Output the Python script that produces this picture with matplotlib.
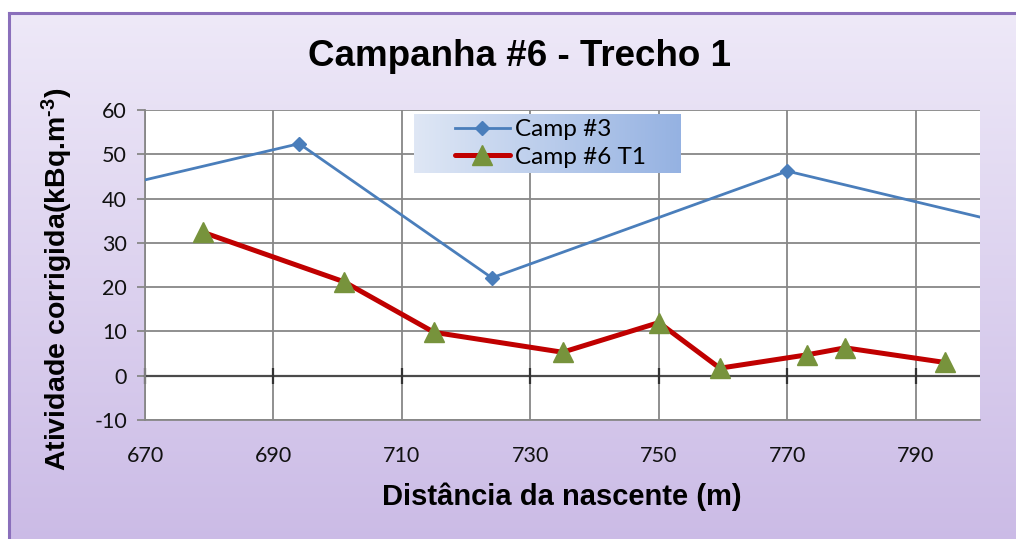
import matplotlib
matplotlib.use('Agg')
import matplotlib.pyplot as plt
import numpy as np
from matplotlib.colors import LinearSegmentedColormap

# dados
camp3_x = [650, 694, 724, 770, 820]
camp3_y = [37.4, 52.4, 22.1, 46.2, 28.9]
camp6_x = [679, 701, 715, 735, 750, 759.5, 773, 779, 794.5]
camp6_y = [32.4, 21.2, 9.8, 5.3, 12.0, 1.7, 4.7, 6.3, 3.0]
xticks = [670, 690, 710, 730, 750, 770, 790]
yticks = [-10, 0, 10, 20, 30, 40, 50, 60]
labels = ['Camp #3', 'Camp #6 T1']

plt.rcParams['axes.unicode_minus'] = False
plt.rcParams['mathtext.fontset'] = 'custom'
plt.rcParams['mathtext.rm'] = 'Liberation Sans:bold'
plt.rcParams['mathtext.default'] = 'rm'

W, H = 1016, 539
fig = plt.figure(figsize=(W / 100, H / 100), dpi=100)
fig.patch.set_facecolor('white')

# fundo em degrade com borda roxa
bg = fig.add_axes([9 / W, -0.01, 1.0, 1 - 13 / H + 0.01], zorder=-1)
bg_cmap = LinearSegmentedColormap.from_list('bg', ['#eee9f8', '#cbbbe6'])
bg.imshow(np.linspace(0, 1, 256).reshape(-1, 1), aspect='auto', cmap=bg_cmap,
          extent=[0, 1, 0, 1], origin='upper')
bg.set_xticks([])
bg.set_yticks([])
for s in ['right', 'bottom']:
    bg.spines[s].set_visible(False)
for s in ['left', 'top']:
    bg.spines[s].set_color('#8a6fbb')
    bg.spines[s].set_linewidth(2.2)

ax = fig.add_axes([145 / W, (H - 420) / H, 835 / W, 310 / H], zorder=0)
ax.set_facecolor('white')

grid_c = '#878787'
for y in yticks:
    ax.axhline(y, color=grid_c, lw=1.3, zorder=1)
for x in xticks:
    ax.axvline(x, color=grid_c, lw=1.3, zorder=1)
ax.axhline(0, color='#4a4a4a', lw=1.6, zorder=1.5)
ax.plot(xticks, [0] * len(xticks), ls='none', marker='|', ms=12, mew=1.6,
        color='#333333', zorder=1.6, clip_on=False)

ax.plot(camp3_x, camp3_y, color='#4a7ebb', lw=2.0, marker='D', ms=7,
        mfc='#4a7ebb', mec='#4a7ebb', label=labels[0], zorder=3)
ax.plot(camp6_x, camp6_y, color='#c00000', lw=3.6, marker='^', ms=14.5,
        mfc='#77933c', mec='#77933c', label=labels[1], zorder=3,
        solid_capstyle='round')

ax.set_xlim(670, 800)
ax.set_ylim(-10, 60)
ax.set_xticks(xticks)
ax.set_yticks(yticks)
for s in ['top', 'right']:
    ax.spines[s].set_visible(False)
for s in ['left', 'bottom']:
    ax.spines[s].set_color(grid_c)
    ax.spines[s].set_linewidth(1.3)
ax.tick_params(axis='y', direction='out', length=6, width=1.3, color=grid_c, pad=7)
ax.tick_params(axis='x', length=0, pad=19)
for lab in ax.get_xticklabels() + ax.get_yticklabels():
    lab.set_fontfamily('Lato')
    lab.set_fontsize(15.5)
    lab.set_color('#111111')

# legenda com fundo em degrade
lx0, lx1, ly0, ly1 = 414, 681, 114, 173
lg = fig.add_axes([lx0 / W, (H - ly1) / H, (lx1 - lx0) / W, (ly1 - ly0) / H], zorder=1)
lg_cmap = LinearSegmentedColormap.from_list('lg', ['#dfe7f5', '#95b2e2'])
lg.imshow(np.linspace(0, 1, 256).reshape(1, -1), aspect='auto', cmap=lg_cmap,
          extent=[0, 1, 0, 1])
lg.axis('off')

handles, labs = ax.get_legend_handles_labels()
leg = fig.legend(handles, labs, loc='center left',
                 bbox_to_anchor=(455 / W, 1 - 143.5 / H), frameon=False,
                 handlelength=2.25, handletextpad=0.2, borderpad=0,
                 borderaxespad=0, labelspacing=0.25,
                 prop={'family': 'Lato', 'size': 17.5})
leg.set_zorder(5)

fig.text(519 / W, 1 - 57 / H, 'Campanha #6 - Trecho 1', ha='center', va='center',
         fontfamily='Liberation Sans', fontweight='bold', fontsize=26.5)
fig.text(57 / W, 1 - 279 / H, r'Atividade corrigida(kBq.m$^{\text{-3}}$)', rotation=90,
         ha='center', va='center', fontfamily='Liberation Sans',
         fontweight='bold', fontsize=20.5)
fig.text(562 / W, 1 - 497 / H, 'Distância da nascente (m)', ha='center', va='center',
         fontfamily='Liberation Sans', fontweight='bold', fontsize=21)

fig.savefig('out.png', dpi=100)
